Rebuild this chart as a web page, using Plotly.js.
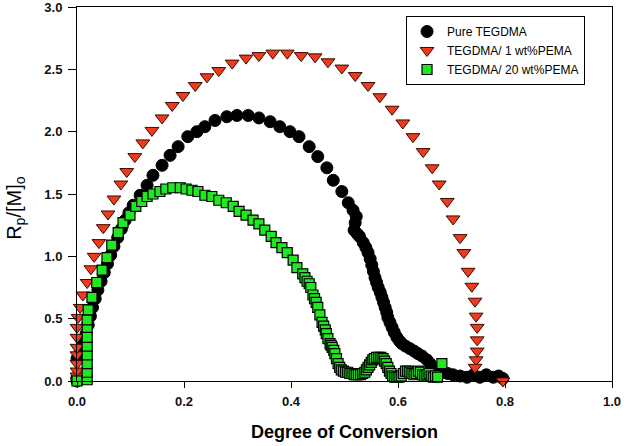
<!DOCTYPE html>
<html>
<head>
<meta charset="utf-8">
<script src="https://cdn.plot.ly/plotly-3.0.1.min.js"></script>
<style>html,body{margin:0;padding:0;background:#fff;}#chart{width:624px;height:446px;}</style>
</head>
<body>
<div id="chart"></div>
<script>
// Pure TEGDMA
const pureX = [0.000,0.000,-0.002,-0.003,0.000,0.006,0.012,0.017,0.021,0.025,0.029,0.034,0.039,0.045,0.051,0.057,0.063,0.069,0.076,0.083,0.090,0.097,0.105,0.118,0.131,0.142,0.159,0.174,0.189,0.207,0.224,0.239,0.258,0.280,0.299,0.320,0.340,0.361,0.379,0.398,0.415,0.434,0.450,0.467,0.479,0.495,0.507,0.516,0.522,0.520,0.518,0.524,0.528,0.535,0.540,0.544,0.548,0.551,0.554,0.557,0.560,0.563,0.567,0.570,0.573,0.576,0.579,0.581,0.585,0.589,0.593,0.598,0.603,0.607,0.614,0.622,0.630,0.637,0.645,0.654,0.660,0.665,0.674,0.684,0.693,0.703,0.716,0.729,0.741,0.753,0.765,0.778,0.788,0.796];
const pureY = [0.00,0.03,0.08,0.13,0.18,0.24,0.31,0.38,0.45,0.52,0.59,0.66,0.73,0.80,0.87,0.94,1.01,1.08,1.15,1.22,1.29,1.35,1.41,1.49,1.57,1.65,1.73,1.81,1.88,1.96,2.00,2.04,2.09,2.12,2.13,2.13,2.11,2.08,2.04,2.00,1.96,1.88,1.80,1.71,1.61,1.52,1.43,1.37,1.32,1.27,1.21,1.18,1.16,1.11,1.07,1.03,0.98,0.93,0.88,0.83,0.79,0.75,0.71,0.67,0.63,0.59,0.55,0.51,0.47,0.43,0.39,0.35,0.32,0.30,0.28,0.26,0.24,0.22,0.20,0.17,0.14,0.11,0.09,0.07,0.06,0.05,0.04,0.03,0.05,0.03,0.05,0.03,0.04,0.02];

// TEGDMA/ 1 wt%PEMA
const pema1X = [0.000,0.000,0.000,0.000,0.000,0.000,0.000,0.000,0.002,0.006,0.011,0.019,0.026,0.032,0.041,0.049,0.058,0.069,0.082,0.093,0.108,0.123,0.140,0.159,0.178,0.198,0.221,0.243,0.265,0.290,0.316,0.340,0.366,0.393,0.419,0.445,0.469,0.495,0.520,0.544,0.566,0.589,0.609,0.628,0.647,0.664,0.677,0.692,0.703,0.716,0.723,0.731,0.738,0.744,0.746,0.748,0.748,0.748,0.746,0.744,0.796];
const pema1Y = [0.00,0.04,0.08,0.14,0.21,0.27,0.35,0.43,0.51,0.59,0.69,0.79,0.90,1.00,1.11,1.23,1.34,1.46,1.58,1.68,1.80,1.91,2.01,2.11,2.21,2.29,2.37,2.44,2.49,2.55,2.59,2.61,2.63,2.63,2.61,2.60,2.56,2.51,2.45,2.37,2.28,2.18,2.07,1.96,1.84,1.71,1.58,1.44,1.30,1.15,1.03,0.88,0.76,0.64,0.52,0.43,0.33,0.24,0.17,0.11,0.00];

// TEGDMA/ 20 wt%PEMA
const pema20X = [0.000,0.019,0.019,0.019,0.019,0.019,0.019,0.019,0.019,0.021,0.028,0.037,0.047,0.056,0.065,0.077,0.086,0.099,0.110,0.121,0.131,0.142,0.155,0.166,0.179,0.193,0.204,0.215,0.226,0.239,0.252,0.265,0.279,0.292,0.303,0.316,0.329,0.340,0.351,0.363,0.372,0.383,0.393,0.404,0.411,0.422,0.426,0.430,0.434,0.437,0.441,0.444,0.447,0.450,0.454,0.458,0.461,0.464,0.466,0.469,0.473,0.475,0.477,0.480,0.482,0.485,0.488,0.491,0.494,0.498,0.502,0.506,0.510,0.514,0.518,0.522,0.526,0.530,0.534,0.538,0.541,0.544,0.547,0.550,0.553,0.556,0.560,0.564,0.568,0.572,0.575,0.578,0.581,0.584,0.587,0.590,0.594,0.598,0.602,0.606,0.610,0.614,0.618,0.622,0.626,0.630,0.634,0.638,0.642,0.646,0.650,0.654,0.658,0.662,0.666,0.670,0.674,0.682];
const pema20Y = [0.00,0.01,0.07,0.14,0.21,0.28,0.35,0.43,0.49,0.57,0.67,0.79,0.89,0.99,1.09,1.19,1.27,1.33,1.40,1.44,1.48,1.50,1.52,1.54,1.55,1.55,1.54,1.53,1.52,1.49,1.48,1.45,1.43,1.40,1.36,1.33,1.29,1.26,1.21,1.16,1.11,1.07,1.03,0.97,0.91,0.86,0.83,0.80,0.78,0.75,0.69,0.66,0.63,0.59,0.53,0.47,0.44,0.41,0.38,0.34,0.30,0.285,0.27,0.245,0.22,0.18,0.14,0.11,0.09,0.08,0.07,0.07,0.06,0.06,0.05,0.05,0.05,0.05,0.06,0.07,0.09,0.11,0.13,0.15,0.17,0.18,0.19,0.19,0.19,0.18,0.16,0.14,0.11,0.08,0.06,0.04,0.03,0.03,0.03,0.04,0.06,0.08,0.08,0.07,0.06,0.05,0.06,0.08,0.07,0.05,0.04,0.05,0.06,0.04,0.03,0.04,0.03,0.14];

const seriesNames = ['Pure TEGDMA', 'TEGDMA/ 1 wt%PEMA', 'TEGDMA/ 20 wt%PEMA'];
const xTicks = [0.0, 0.2, 0.4, 0.6, 0.8, 1.0];
const yTicks = [0.0, 0.5, 1.0, 1.5, 2.0, 2.5, 3.0];

const FONT = 'Arial, "Liberation Sans", sans-serif';

const traces = [
  {x: pureX, y: pureY, name: seriesNames[0], type: 'scatter', mode: 'markers', cliponaxis: false,
   marker: {symbol: 'circle', size: 12, color: '#000000', line: {color: '#000000', width: 1}}},
  {x: pema1X, y: pema1Y, name: seriesNames[1], type: 'scatter', mode: 'markers', cliponaxis: false,
   marker: {symbol: 'triangle-down', size: 12, color: '#ef3b1c', line: {color: '#3a0a00', width: 1}}},
  {x: pema20X, y: pema20Y, name: seriesNames[2], type: 'scatter', mode: 'markers', cliponaxis: false,
   marker: {symbol: 'square', size: 10, color: '#22e622', line: {color: '#000000', width: 1.2}}}
];

const layout = {
  width: 624, height: 446,
  margin: {l: 77, r: 12, t: 7, b: 65},
  paper_bgcolor: '#ffffff', plot_bgcolor: '#ffffff',
  showlegend: true,
  legend: {x: 0.615, y: 0.976, xanchor: 'left', yanchor: 'top',
           bordercolor: '#000000', borderwidth: 1, bgcolor: '#ffffff',
           font: {family: FONT, size: 12, color: '#000'}, tracegroupgap: 0},
  xaxis: {range: [0, 1], tickvals: xTicks, ticktext: xTicks.map(v => v.toFixed(1)),
          ticks: 'outside', ticklen: 6, tickcolor: '#000', showgrid: false, zeroline: false,
          showline: true, linecolor: '#000', linewidth: 1, mirror: true, ticklabeloverflow: 'allow',
          tickfont: {family: FONT, size: 13, color: '#111', weight: 'bold'}, ticklabelstandoff: 2,
          title: {text: '<b>Degree of Conversion</b>', font: {family: FONT, size: 18, color: '#000'}, standoff: 17}},
  yaxis: {range: [0, 3], tickvals: yTicks, ticktext: yTicks.map(v => v.toFixed(1)),
          ticks: 'outside', ticklen: 8, tickcolor: '#000', showgrid: false, zeroline: false,
          showline: true, linecolor: '#000', linewidth: 1, mirror: true, ticklabeloverflow: 'allow',
          tickfont: {family: FONT, size: 13, color: '#111', weight: 'bold'}, ticklabelstandoff: 3},
  annotations: [{text: 'R<sub>p</sub>/[M]<sub>o</sub>', xref: 'paper', yref: 'paper',
                 x: -0.114, y: 0.463, xanchor: 'center', yanchor: 'middle', textangle: -90,
                 showarrow: false, font: {family: FONT, size: 20, color: '#000'}}]
};

Plotly.newPlot('chart', traces, layout, {displayModeBar: false, staticPlot: true});
</script>
</body>
</html>
